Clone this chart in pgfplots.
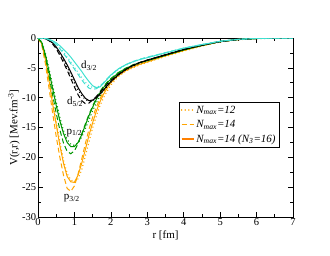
\documentclass[border=0pt]{standalone}
\usepackage{fontspec}
\setmainfont{Liberation Serif}
\usepackage{pgfplots}
\pgfplotsset{compat=1.18}
\definecolor{cturq}{RGB}{64,224,208}
\definecolor{cgreen}{RGB}{0,150,0}
\definecolor{corange}{RGB}{255,165,0}
\tikzset{mydot/.style={line width=1.5pt, line cap=round, dash pattern=on 0.01pt off 3.6pt},
         mydash/.style={dash pattern=on 5pt off 3pt},
         mysolid/.style={solid, line cap=butt}}
\begin{document}
\fontsize{11}{13}\selectfont
\begin{tikzpicture}[x=1pt,y=1pt]
\useasboundingbox (-38,-38) rectangle (292,217);
\begin{axis}[
  at={(0,0)}, anchor=south west,
  scale only axis, width=255pt, height=179pt,
  xmin=0, xmax=7, ymin=-30, ymax=0,
  xtick={0,1,...,7}, ytick={-30,-25,...,0},
  minor x tick num=1, minor y tick num=1,
  tick align=inside, tick pos=both,
  major tick length=5pt, minor tick length=3pt,
  /pgf/number format/assume math mode=true,
  ticklabel style={font=\fontsize{10.5}{12}\selectfont},
  xticklabel style={yshift=2pt},
  yticklabel style={xshift=2pt},
  label style={font=\fontsize{11}{13}\selectfont},
  xlabel={r [fm]}, ylabel={V(r,r) [Mev.fm\textsuperscript{-3}]},
  xlabel style={yshift=3pt}, ylabel style={yshift=-5pt},
  axis line style={line width=0.8pt},
  every tick/.style={black, line width=0.6pt},
  legend style={at={(axis cs:3.87,-10.7)}, anchor=north west, draw=black, line width=0.8pt,
    font=\fontsize{11}{12}\selectfont\itshape, row sep=1.5pt, inner sep=1.5pt,
    cells={anchor=west}},
  legend cell align=left,
  legend image code/.code={\draw[#1] (0pt,0pt) -- (12pt,0pt);},
]
\addlegendimage{corange, mydot}
\addlegendentry{N\textsubscript{max}=12}
\addlegendimage{corange, line width=1.2pt, mydash}
\addlegendentry{N\textsubscript{max}=14}
\addlegendimage{orange, line width=1.5pt}
\addlegendentry{N\textsubscript{max}=14 (N\textsubscript{3}=16)}
% p3/2 (orange)
\addplot[corange, line width=1pt, mydot, forget plot] coordinates {(0,0) (0.1,-0.8) (0.2,-3.2) (0.3,-6.5) (0.4,-10.3) (0.5,-14) (0.6,-17.4) (0.7,-20.5) (0.8,-22.7) (0.9,-23.8) (1.0,-24.1) (1.1,-23.6) (1.2,-22.1) (1.3,-19.8) (1.4,-17.4) (1.5,-15.1) (1.6,-13.1) (1.7,-11.4) (1.8,-10) (1.9,-8.9) (2.0,-7.9) (2.2,-6.5) (2.4,-5.6) (2.6,-5.0) (2.8,-4.5) (3,-4.1) (3.5,-3.1) (4,-2.2) (4.5,-1.35) (5,-0.65) (5.5,-0.27) (6,-0.09) (6.5,-0.02) (7,0)};
\addplot[corange, line width=1pt, mydash, forget plot] coordinates {(0,0) (0.1,-1.1) (0.2,-4.2) (0.3,-8.3) (0.4,-12.5) (0.5,-16.5) (0.6,-20) (0.7,-23) (0.8,-25.2) (0.9,-25.7) (1.0,-24.8) (1.1,-22.8) (1.2,-20.3) (1.3,-17.7) (1.4,-15.3) (1.5,-13.3) (1.6,-11.6) (1.7,-10.2) (1.8,-9.0) (1.9,-8.1) (2.0,-7.3) (2.2,-6.2) (2.4,-5.4) (2.6,-4.8) (2.8,-4.3) (3,-3.9) (3.5,-2.95) (4,-2.05) (4.5,-1.25) (5,-0.6) (5.5,-0.25) (6,-0.08) (6.5,-0.02) (7,0)};
\addplot[corange, line width=1pt, mysolid, forget plot] coordinates {(0,0) (0.1,-0.9) (0.2,-3.5) (0.3,-7) (0.4,-11) (0.5,-14.5) (0.6,-18) (0.7,-21) (0.8,-23.2) (0.9,-24.1) (1.0,-24.2) (1.1,-23) (1.2,-21) (1.3,-18.7) (1.4,-16.3) (1.5,-14.2) (1.6,-12.3) (1.7,-10.7) (1.8,-9.4) (1.9,-8.4) (2.0,-7.5) (2.2,-6.3) (2.4,-5.5) (2.6,-4.9) (2.8,-4.4) (3,-4.0) (3.5,-3.0) (4,-2.1) (4.5,-1.3) (5,-0.6) (5.5,-0.25) (6,-0.08) (6.5,-0.02) (7,0)};
% p1/2 (green)
\addplot[cgreen, line width=1pt, mydot, forget plot] coordinates {(0,0) (0.1,-0.6) (0.2,-2.5) (0.3,-5.1) (0.4,-7.9) (0.5,-10.7) (0.6,-13.3) (0.7,-15.5) (0.8,-17) (0.9,-17.8) (1.0,-18) (1.1,-17.6) (1.2,-16.6) (1.3,-15.2) (1.4,-13.7) (1.5,-12.2) (1.6,-10.9) (1.7,-9.7) (1.8,-8.7) (1.9,-7.9) (2.0,-7.2) (2.2,-6.1) (2.4,-5.3) (2.6,-4.7) (2.8,-4.2) (3,-3.85) (3.5,-2.9) (4,-2.0) (4.5,-1.25) (5,-0.6) (5.5,-0.25) (6,-0.08) (6.5,-0.02) (7,0)};
\addplot[cgreen, line width=1pt, mydash, forget plot] coordinates {(0,0) (0.1,-0.8) (0.2,-3.1) (0.3,-6.2) (0.4,-9.5) (0.5,-12.6) (0.6,-15.4) (0.7,-17.6) (0.8,-19.0) (0.9,-19.4) (1.0,-18.9) (1.1,-17.7) (1.2,-16.1) (1.3,-14.4) (1.4,-12.8) (1.5,-11.4) (1.6,-10.1) (1.7,-9.0) (1.8,-8.1) (1.9,-7.4) (2.0,-6.8) (2.2,-5.8) (2.4,-5.1) (2.6,-4.5) (2.8,-4.1) (3,-3.75) (3.5,-2.85) (4,-1.95) (4.5,-1.2) (5,-0.6) (5.5,-0.25) (6,-0.08) (6.5,-0.02) (7,0)};
\addplot[cgreen, line width=1pt, mysolid, forget plot] coordinates {(0,0) (0.1,-0.7) (0.2,-2.7) (0.3,-5.5) (0.4,-8.4) (0.5,-11.3) (0.6,-13.9) (0.7,-16) (0.8,-17.5) (0.9,-18.2) (1.0,-18.2) (1.1,-17.5) (1.2,-16.2) (1.3,-14.6) (1.4,-13.0) (1.5,-11.6) (1.6,-10.3) (1.7,-9.2) (1.8,-8.3) (1.9,-7.5) (2.0,-6.9) (2.2,-5.9) (2.4,-5.1) (2.6,-4.6) (2.8,-4.1) (3,-3.8) (3.5,-2.9) (4,-2.0) (4.5,-1.25) (5,-0.6) (5.5,-0.25) (6,-0.08) (6.5,-0.02) (7,0)};
% d5/2 (black)
\addplot[black, line width=1pt, mydot, forget plot] coordinates {(0,0) (0.2,-0.1) (0.3,-0.4) (0.4,-0.9) (0.5,-1.65) (0.6,-2.6) (0.7,-3.7) (0.8,-4.9) (0.9,-6.2) (1.0,-7.5) (1.1,-8.7) (1.2,-9.7) (1.3,-10.3) (1.4,-10.6) (1.5,-10.5) (1.6,-10.1) (1.7,-9.5) (1.8,-8.8) (1.9,-8.1) (2.0,-7.4) (2.2,-6.3) (2.4,-5.4) (2.6,-4.7) (2.8,-4.2) (3,-3.75) (3.5,-2.85) (4,-1.95) (4.5,-1.2) (5,-0.6) (5.5,-0.25) (6,-0.08) (6.5,-0.02) (7,0)};
\addplot[black, line width=1pt, mydash, forget plot] coordinates {(0,0) (0.2,-0.12) (0.3,-0.45) (0.4,-1.0) (0.5,-1.8) (0.6,-2.9) (0.7,-4.1) (0.8,-5.4) (0.9,-6.8) (1.0,-8.2) (1.1,-9.5) (1.2,-10.5) (1.3,-11.0) (1.4,-10.9) (1.5,-10.4) (1.6,-9.8) (1.7,-9.1) (1.8,-8.4) (1.9,-7.7) (2.0,-7.1) (2.2,-6.1) (2.4,-5.3) (2.6,-4.6) (2.8,-4.1) (3,-3.7) (3.5,-2.8) (4,-1.9) (4.5,-1.2) (5,-0.6) (5.5,-0.25) (6,-0.08) (6.5,-0.02) (7,0)};
\addplot[black, line width=1pt, mysolid, forget plot] coordinates {(0,0) (0.2,-0.1) (0.3,-0.35) (0.4,-0.8) (0.5,-1.5) (0.6,-2.4) (0.7,-3.4) (0.8,-4.5) (0.9,-5.7) (1.0,-7.0) (1.1,-8.3) (1.2,-9.3) (1.3,-10.1) (1.4,-10.5) (1.5,-10.4) (1.6,-10.0) (1.7,-9.4) (1.8,-8.7) (1.9,-8.0) (2.0,-7.3) (2.2,-6.2) (2.4,-5.3) (2.6,-4.6) (2.8,-4.1) (3,-3.7) (3.5,-2.8) (4,-1.9) (4.5,-1.2) (5,-0.6) (5.5,-0.25) (6,-0.08) (6.5,-0.02) (7,0)};
% d3/2 (turquoise)
\addplot[cturq, line width=1pt, mydot, forget plot] coordinates {(0,0) (0.2,-0.06) (0.3,-0.25) (0.4,-0.55) (0.5,-1.0) (0.6,-1.6) (0.7,-2.35) (0.8,-3.15) (0.9,-4.0) (1.0,-4.9) (1.1,-5.8) (1.2,-6.6) (1.3,-7.4) (1.4,-8.0) (1.5,-8.3) (1.6,-8.3) (1.7,-8.0) (1.8,-7.5) (1.9,-6.9) (2.0,-6.3) (2.2,-5.3) (2.4,-4.6) (2.6,-4.0) (2.8,-3.6) (3,-3.25) (3.5,-2.5) (4,-1.7) (4.5,-1.1) (5,-0.55) (5.5,-0.22) (6,-0.07) (6.5,-0.02) (7,0)};
\addplot[cturq, line width=1pt, mydash, forget plot] coordinates {(0,0) (0.2,-0.07) (0.3,-0.28) (0.4,-0.6) (0.5,-1.1) (0.6,-1.8) (0.7,-2.6) (0.8,-3.4) (0.9,-4.3) (1.0,-5.2) (1.1,-6.1) (1.2,-7.0) (1.3,-7.8) (1.4,-8.4) (1.5,-8.6) (1.6,-8.5) (1.7,-8.1) (1.8,-7.5) (1.9,-6.8) (2.0,-6.2) (2.2,-5.2) (2.4,-4.5) (2.6,-3.95) (2.8,-3.55) (3,-3.2) (3.5,-2.45) (4,-1.7) (4.5,-1.1) (5,-0.55) (5.5,-0.22) (6,-0.07) (6.5,-0.02) (7,0)};
\addplot[cturq, line width=1pt, mysolid, forget plot] coordinates {(0,0) (0.2,-0.05) (0.3,-0.2) (0.4,-0.45) (0.5,-0.8) (0.6,-1.3) (0.7,-1.9) (0.8,-2.5) (0.9,-3.2) (1.0,-4.0) (1.1,-4.8) (1.2,-5.6) (1.3,-6.5) (1.4,-7.3) (1.5,-8.0) (1.6,-8.3) (1.7,-8.2) (1.8,-7.6) (1.9,-6.9) (2.0,-6.2) (2.2,-5.2) (2.4,-4.5) (2.6,-4.0) (2.8,-3.6) (3,-3.3) (3.5,-2.5) (4,-1.7) (4.5,-1.1) (5,-0.55) (5.5,-0.22) (6,-0.07) (6.5,-0.02) (7,0)};
% labels
\node at (axis cs:1.4,-4.6) {d\textsubscript{3/2}};
\node at (axis cs:1.02,-10.7) {d\textsubscript{5/2}};
\node at (axis cs:1.0,-15.9) {p\textsubscript{1/2}};
\node at (axis cs:0.93,-26.9) {p\textsubscript{3/2}};
\end{axis}
\end{tikzpicture}
\end{document}
